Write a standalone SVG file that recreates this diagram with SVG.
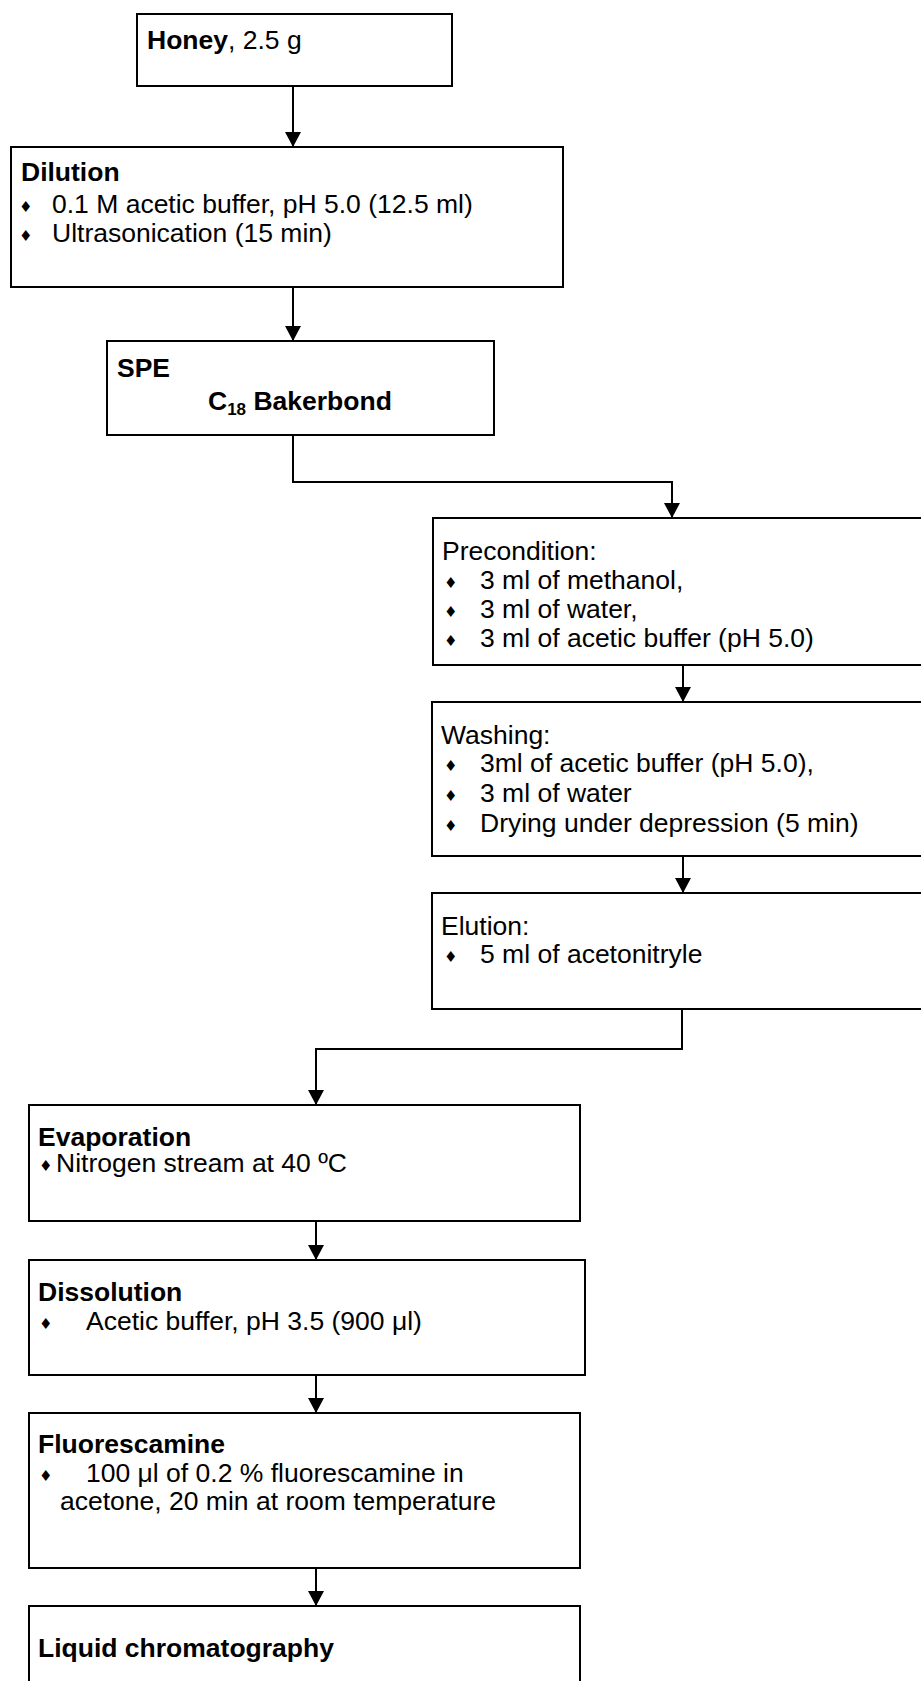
<svg xmlns="http://www.w3.org/2000/svg" width="921" height="1681" viewBox="0 0 921 1681">
<style>
.box{fill:#fff;stroke:#000;stroke-width:2}
text{font-family:"Liberation Sans",Arial,sans-serif;font-size:26.5px;fill:#000}
.b{font-weight:bold}
.bul{font-family:"DejaVu Sans",sans-serif;font-size:15px}
.con{fill:none;stroke:#000;stroke-width:2}
</style>
<defs>
<marker id="ah" markerUnits="userSpaceOnUse" markerWidth="16" markerHeight="16" refX="15" refY="8" orient="auto">
<path d="M0,0 L15,8 L0,16 z" fill="#000"/>
</marker>
</defs>
<rect width="921" height="1681" fill="#fff"/>
<g id="connectors">
<path class="con" marker-end="url(#ah)" d="M293,86 V147"/>
<path class="con" marker-end="url(#ah)" d="M293,287 V341"/>
<path class="con" marker-end="url(#ah)" d="M293,435 V482 H672 V518"/>
<path class="con" marker-end="url(#ah)" d="M683,665 V702"/>
<path class="con" marker-end="url(#ah)" d="M683,856 V893"/>
<path class="con" marker-end="url(#ah)" d="M682,1009 V1049 H316 V1105"/>
<path class="con" marker-end="url(#ah)" d="M316,1221 V1260"/>
<path class="con" marker-end="url(#ah)" d="M316,1375 V1413"/>
<path class="con" marker-end="url(#ah)" d="M316,1568 V1606"/>
</g>
<g id="honey">
<rect class="box" x="137" y="14" width="315" height="72"/>
<text x="147" y="49"><tspan class="b">Honey</tspan>, 2.5 g</text>
</g>
<g id="dilution">
<rect class="box" x="11" y="147" width="552" height="140"/>
<text class="b" x="21" y="181">Dilution</text>
<text class="bul" x="19" y="212">♦</text>
<text x="52" y="213">0.1 M acetic buffer, pH 5.0 (12.5 ml)</text>
<text class="bul" x="19" y="241">♦</text>
<text x="52" y="242">Ultrasonication (15 min)</text>
</g>
<g id="spe">
<rect class="box" x="107" y="341" width="387" height="94"/>
<text class="b" x="117" y="377">SPE</text>
<text class="b" x="208" y="410">C<tspan font-size="17" dy="5">18</tspan><tspan dy="-5"> Bakerbond</tspan></text>
</g>
<g id="precondition">
<rect class="box" x="433" y="518" width="492" height="147"/>
<text x="442" y="560">Precondition:</text>
<text class="bul" x="444" y="588">♦</text>
<text x="480" y="589">3 ml of methanol,</text>
<text class="bul" x="444" y="617">♦</text>
<text x="480" y="618">3 ml of water,</text>
<text class="bul" x="444" y="646">♦</text>
<text x="480" y="647">3 ml of acetic buffer (pH 5.0)</text>
</g>
<g id="washing">
<rect class="box" x="432" y="702" width="493" height="154"/>
<text x="441" y="744">Washing:</text>
<text class="bul" x="444" y="771">♦</text>
<text x="480" y="772">3ml of acetic buffer (pH 5.0),</text>
<text class="bul" x="444" y="801">♦</text>
<text x="480" y="802">3 ml of water</text>
<text class="bul" x="444" y="831">♦</text>
<text x="480" y="832">Drying under depression (5 min)</text>
</g>
<g id="elution">
<rect class="box" x="432" y="893" width="493" height="116"/>
<text x="441" y="935">Elution:</text>
<text class="bul" x="444" y="962">♦</text>
<text x="480" y="963">5 ml of acetonitryle</text>
</g>
<g id="evaporation">
<rect class="box" x="29" y="1105" width="551" height="116"/>
<text class="b" x="38" y="1146">Evaporation</text>
<text class="bul" x="39" y="1171">♦</text>
<text x="56" y="1172">Nitrogen stream at 40 ºC</text>
</g>
<g id="dissolution">
<rect class="box" x="29" y="1260" width="556" height="115"/>
<text class="b" x="38" y="1301">Dissolution</text>
<text class="bul" x="39" y="1329">♦</text>
<text x="86" y="1330">Acetic buffer, pH 3.5 (900 μl)</text>
</g>
<g id="fluorescamine">
<rect class="box" x="29" y="1413" width="551" height="155"/>
<text class="b" x="38" y="1453">Fluorescamine</text>
<text class="bul" x="39" y="1481">♦</text>
<text x="86" y="1482">100 μl of 0.2 % fluorescamine in</text>
<text x="60" y="1510">acetone, 20 min at room temperature</text>
</g>
<g id="lc">
<rect class="box" x="29" y="1606" width="551" height="90"/>
<text class="b" x="38" y="1657">Liquid chromatography</text>
</g>
</svg>
